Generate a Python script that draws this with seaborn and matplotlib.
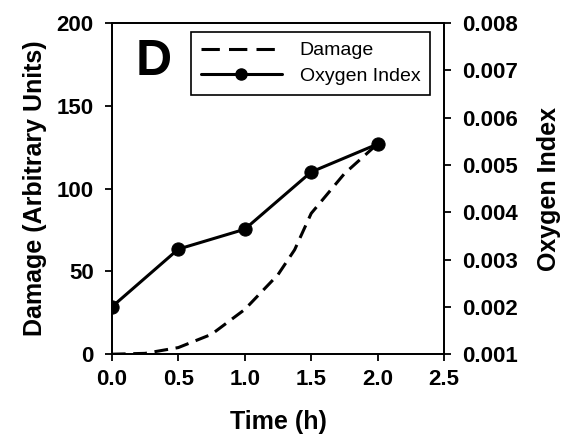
import matplotlib
matplotlib.use("Agg")
import matplotlib.pyplot as plt
import seaborn as sns
import pandas as pd
from matplotlib.lines import Line2D

damage_time = [0.0, 0.25, 0.5, 0.75, 1.0, 1.25, 1.375, 1.5, 1.75, 2.0]
damage_vals = [0.0, 0.5, 4.0, 12.0, 27.0, 48.0, 63.0, 85.0, 109.0, 127.0]
oxy_time = [0.0, 0.5, 1.0, 1.5, 2.0]
oxy_vals = [0.0020, 0.00322, 0.00364, 0.00485, 0.00544]
x_ticks = [0.0, 0.5, 1.0, 1.5, 2.0, 2.5]
left_ticks = [0, 50, 100, 150, 200]
right_ticks = [0.001, 0.002, 0.003, 0.004, 0.005, 0.006, 0.007, 0.008]

sns.set_style("ticks", {"axes.edgecolor": "black", "text.color": "black",
                        "axes.labelcolor": "black", "xtick.color": "black",
                        "ytick.color": "black"})
plt.rcParams['font.family'] = ['Liberation Sans', 'DejaVu Sans']

fig = plt.figure(figsize=(5.65, 4.4), dpi=100)
ax = fig.add_axes([0.198, 0.195, 0.588, 0.753])
ax2 = ax.twinx()

df_d = pd.DataFrame({"t": damage_time, "v": damage_vals})
df_o = pd.DataFrame({"t": oxy_time, "v": oxy_vals})

sns.lineplot(data=df_d, x="t", y="v", ax=ax, color="black", lw=2.2,
             dashes=False, linestyle=(0, (4.5, 2.5)))
sns.lineplot(data=df_o, x="t", y="v", ax=ax2, color="black", lw=2.2,
             marker="o", markersize=9.5, markeredgecolor="black")

ax.set_xlim(0, 2.5)
ax.set_ylim(0, 200)
ax2.set_ylim(0.001, 0.008)
ax.set_xticks(x_ticks)
ax.set_xticklabels([f"{v:.1f}" for v in x_ticks])
ax.set_yticks(left_ticks)
ax.set_yticklabels([str(v) for v in left_ticks])
ax2.set_yticks(right_ticks)
ax2.set_yticklabels([f"{v:.3f}" for v in right_ticks])

for a in (ax, ax2):
    for s in a.spines.values():
        s.set_linewidth(1.3)
        s.set_color("black")
        s.set_visible(True)
    a.tick_params(direction="out", length=5, width=1.3, labelsize=16,
                  color="black", labelcolor="black")
    a.tick_params(axis="y", pad=8)
    a.tick_params(axis="x", pad=6)
    for lab in a.get_xticklabels() + a.get_yticklabels():
        lab.set_fontweight("bold")

ax.set_xlabel("Time (h)", fontsize=18, fontweight="bold", labelpad=14, color="black")
ax.set_ylabel("Damage (Arbitrary Units)", fontsize=18, fontweight="bold", labelpad=7,
              color="black")
ax2.set_ylabel("Oxygen Index", fontsize=18, fontweight="bold", labelpad=14, color="black")

ax.text(0.07, 0.843, "D", transform=ax.transAxes, fontsize=36, fontweight="bold",
        va="baseline", ha="left", color="black")

handles = [Line2D([], [], color="black", lw=2.2, linestyle=(0, (6, 3))),
           Line2D([], [], color="black", lw=2.2, marker="o", markersize=8)]
leg = ax2.legend(handles, ["Damage", "Oxygen Index"], loc="upper right",
                 bbox_to_anchor=(0.958, 0.972), frameon=True, fancybox=False,
                 edgecolor="black", framealpha=1, fontsize=14, handlelength=4.2,
                 borderpad=0.5, labelspacing=0.4, handletextpad=0.9,
                 borderaxespad=0)
leg.get_frame().set_linewidth(1.2)
for t in leg.get_texts():
    t.set_color("black")

fig.savefig("out.png", dpi=100)
